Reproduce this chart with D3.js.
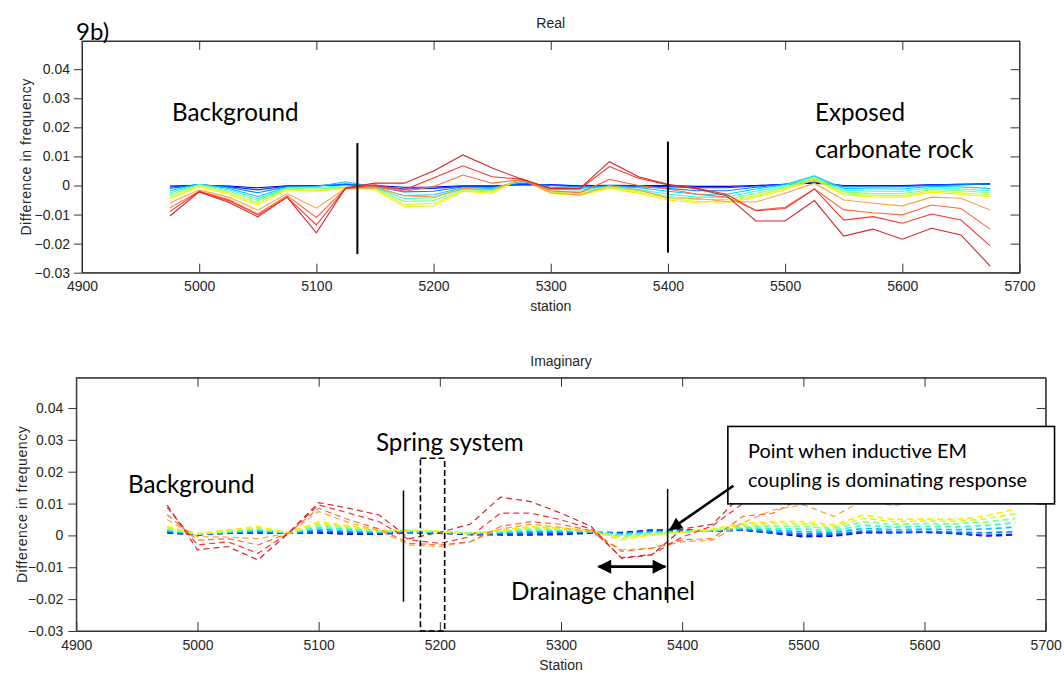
<!DOCTYPE html>
<html>
<head>
<meta charset="utf-8">
<script src="https://cdn.jsdelivr.net/npm/d3@7"></script>
<style>
body { margin: 0; background: #fff; }
svg text { font-family: "Liberation Sans", Arial, sans-serif; fill: #262626; }
svg text.note { font-family: Lato, "Open Sans", sans-serif; fill: #000; }
</style>
</head>
<body>
<div id="chart-area"></div>
<script>
// Data //

const stations = [4975, 5000, 5025, 5050, 5075, 5100, 5125, 5150, 5175, 5200, 5225, 5250, 5275, 5300, 5325,
                  5350, 5375, 5400, 5425, 5450, 5475, 5500, 5525, 5550, 5575, 5600, 5625, 5650, 5675];

const xTicks = [4900, 5000, 5100, 5200, 5300, 5400, 5500, 5600, 5700];
const yTicks = [-0.03, -0.02, -0.01, 0, 0.01, 0.02, 0.03, 0.04];

// Real part, one array per frequency (blue -> red)
const real0 = [-0.0002, 0.0001, -0.0002, -0.0008, -0.0001, 0.0000, 0.0002, 0.0000, -0.0006, -0.0005, -0.0001, -0.0001, 0.0002, 0.0002, -0.0001, 0.0001, 0.0000, 0.0000, -0.0003, -0.0003, 0.0000, 0.0004, 0.0008, 0.0000, 0.0000, 0.0000, 0.0002, 0.0004, 0.0004];
const real1 = [-0.0005, 0.0002, -0.0004, -0.0015, -0.0002, -0.0001, 0.0003, -0.0002, -0.0012, -0.0010, -0.0003, -0.0003, 0.0004, 0.0002, -0.0002, 0.0000, -0.0002, -0.0004, -0.0008, -0.0008, -0.0002, 0.0004, 0.0012, -0.0002, -0.0002, -0.0002, 0.0002, 0.0004, 0.0007];
const real2 = [-0.0010, 0.0003, -0.0006, -0.0025, -0.0004, -0.0002, 0.0006, -0.0003, -0.0022, -0.0020, -0.0005, -0.0006, 0.0008, 0.0000, -0.0005, -0.0002, -0.0004, -0.0010, -0.0018, -0.0018, -0.0006, 0.0004, 0.0020, -0.0004, -0.0005, -0.0004, 0.0000, 0.0002, 0.0005];
const real3 = [-0.0018, 0.0004, -0.0010, -0.0038, -0.0006, -0.0004, 0.0013, -0.0005, -0.0035, -0.0032, -0.0008, -0.0010, 0.0015, -0.0006, -0.0010, -0.0003, -0.0008, -0.0020, -0.0030, -0.0030, -0.0012, 0.0003, 0.0033, -0.0010, -0.0012, -0.0012, -0.0003, -0.0005, -0.0010];
const real4 = [-0.0025, 0.0003, -0.0015, -0.0045, -0.0008, -0.0008, 0.0000, -0.0008, -0.0045, -0.0042, -0.0012, -0.0014, 0.0020, -0.0012, -0.0016, -0.0005, -0.0014, -0.0030, -0.0040, -0.0040, -0.0020, 0.0000, 0.0030, -0.0016, -0.0020, -0.0020, -0.0008, -0.0012, -0.0018];
const real5 = [-0.0032, 0.0002, -0.0020, -0.0052, -0.0010, -0.0012, -0.0006, -0.0010, -0.0055, -0.0052, -0.0015, -0.0018, 0.0022, -0.0018, -0.0022, -0.0006, -0.0018, -0.0038, -0.0048, -0.0048, -0.0028, -0.0005, 0.0028, -0.0022, -0.0028, -0.0028, -0.0014, -0.0018, -0.0025];
const real6 = [-0.0040, 0.0000, -0.0025, -0.0060, -0.0012, -0.0018, -0.0008, -0.0012, -0.0065, -0.0062, -0.0018, -0.0022, 0.0025, -0.0022, -0.0028, -0.0008, -0.0022, -0.0045, -0.0055, -0.0055, -0.0035, -0.0010, 0.0025, -0.0028, -0.0035, -0.0035, -0.0018, -0.0025, -0.0032];
const real7 = [-0.0045, -0.0005, -0.0030, -0.0067, -0.0015, -0.0020, -0.0010, -0.0015, -0.0073, -0.0070, -0.0020, -0.0027, 0.0025, -0.0027, -0.0033, -0.0010, -0.0027, -0.0050, -0.0060, -0.0060, -0.0040, -0.0015, 0.0020, -0.0033, -0.0039, -0.0040, -0.0023, -0.0030, -0.0039];
const real8 = [-0.0060, -0.0015, -0.0040, -0.0085, -0.0028, -0.0078, -0.0010, -0.0008, -0.0035, -0.0040, -0.0010, -0.0015, 0.0022, -0.0025, -0.0033, 0.0000, -0.0015, -0.0042, -0.0045, -0.0055, -0.0057, -0.0027, 0.0008, -0.0050, -0.0061, -0.0070, -0.0040, -0.0044, -0.0084];
const real9 = [-0.0077, -0.0020, -0.0048, -0.0098, -0.0035, -0.0110, -0.0010, -0.0004, -0.0020, -0.0004, 0.0036, 0.0008, 0.0020, -0.0018, -0.0025, 0.0021, 0.0000, -0.0012, -0.0030, -0.0040, -0.0085, -0.0075, -0.0012, -0.0084, -0.0094, -0.0101, -0.0067, -0.0079, -0.0150];
const real10 = [-0.0090, -0.0020, -0.0052, -0.0102, -0.0040, -0.0136, -0.0010, 0.0002, -0.0015, 0.0026, 0.0068, 0.0030, 0.0022, -0.0012, -0.0012, 0.0065, 0.0025, 0.0002, -0.0010, -0.0030, -0.0087, -0.0079, -0.0012, -0.0119, -0.0107, -0.0130, -0.0098, -0.0119, -0.0208];
const real11 = [-0.0105, -0.0022, -0.0058, -0.0108, -0.0040, -0.0163, -0.0008, 0.0008, 0.0008, 0.0050, 0.0105, 0.0060, 0.0022, -0.0010, -0.0010, 0.0082, 0.0030, 0.0004, -0.0012, -0.0035, -0.0122, -0.0122, -0.0052, -0.0174, -0.0150, -0.0185, -0.0147, -0.0170, -0.0277];

// Imaginary part
const imag0 = [0.0008, 0.0002, 0.0007, 0.0008, 0.0008, 0.0008, 0.0004, 0.0004, 0.0009, 0.0007, 0.0003, 0.0002, 0.0002, 0.0003, 0.0008, 0.0009, 0.0017, 0.0017, 0.0013, 0.0017, 0.0007, -0.0004, -0.0002, 0.0009, 0.0009, 0.0011, 0.0007, -0.0002, 0.0002];
const imag1 = [0.0010, 0.0002, 0.0008, 0.0010, 0.0008, 0.0010, 0.0007, 0.0006, 0.0010, 0.0008, 0.0004, 0.0004, 0.0004, 0.0006, 0.0009, 0.0008, 0.0015, 0.0016, 0.0013, 0.0018, 0.0008, 0.0000, 0.0001, 0.0010, 0.0009, 0.0010, 0.0006, 0.0000, 0.0004];
const imag2 = [0.0012, 0.0003, 0.0009, 0.0012, 0.0008, 0.0014, 0.0011, 0.0008, 0.0011, 0.0009, 0.0005, 0.0006, 0.0009, 0.0010, 0.0010, 0.0006, 0.0013, 0.0014, 0.0013, 0.0019, 0.0011, 0.0005, 0.0005, 0.0014, 0.0012, 0.0013, 0.0010, 0.0008, 0.0012];
const imag3 = [0.0015, 0.0004, 0.0010, 0.0015, 0.0008, 0.0020, 0.0015, 0.0010, 0.0012, 0.0010, 0.0006, 0.0009, 0.0013, 0.0013, 0.0011, 0.0004, 0.0010, 0.0013, 0.0014, 0.0021, 0.0016, 0.0012, 0.0010, 0.0022, 0.0018, 0.0020, 0.0018, 0.0020, 0.0026];
const imag4 = [0.0018, 0.0005, 0.0011, 0.0018, 0.0008, 0.0025, 0.0019, 0.0012, 0.0014, 0.0011, 0.0007, 0.0011, 0.0017, 0.0016, 0.0012, 0.0001, 0.0008, 0.0012, 0.0015, 0.0024, 0.0022, 0.0020, 0.0016, 0.0032, 0.0026, 0.0028, 0.0027, 0.0031, 0.0040];
const imag5 = [0.0022, 0.0005, 0.0013, 0.0022, 0.0008, 0.0032, 0.0023, 0.0014, 0.0015, 0.0012, 0.0007, 0.0013, 0.0021, 0.0019, 0.0013, -0.0003, 0.0006, 0.0011, 0.0016, 0.0028, 0.0030, 0.0028, 0.0022, 0.0043, 0.0035, 0.0037, 0.0036, 0.0042, 0.0053];
const imag6 = [0.0025, 0.0005, 0.0015, 0.0025, 0.0008, 0.0038, 0.0027, 0.0016, 0.0016, 0.0012, 0.0006, 0.0015, 0.0025, 0.0021, 0.0014, -0.0008, 0.0004, 0.0010, 0.0018, 0.0033, 0.0038, 0.0036, 0.0028, 0.0054, 0.0043, 0.0045, 0.0044, 0.0052, 0.0068];
const imag7 = [0.0028, 0.0005, 0.0017, 0.0028, 0.0008, 0.0043, 0.0030, 0.0017, 0.0017, 0.0012, 0.0004, 0.0017, 0.0028, 0.0023, 0.0015, -0.0014, 0.0002, 0.0010, 0.0020, 0.0038, 0.0043, 0.0043, 0.0033, 0.0064, 0.0050, 0.0052, 0.0050, 0.0060, 0.0082];
const imag8 = [0.0050, -0.0004, -0.0005, -0.0010, 0.0007, 0.0075, 0.0040, 0.0015, -0.0030, -0.0035, -0.0020, 0.0020, 0.0035, 0.0025, 0.0010, -0.0045, -0.0040, -0.0020, -0.0015, 0.0040, 0.0080, 0.0096, 0.0060, 0.0110, 0.0093, 0.0115, 0.0120, 0.0125, 0.0130];
const imag9 = [0.0065, -0.0015, -0.0010, -0.0030, 0.0007, 0.0085, 0.0049, 0.0020, -0.0025, -0.0030, -0.0020, 0.0028, 0.0043, 0.0035, 0.0015, -0.0050, -0.0040, -0.0014, -0.0010, 0.0060, 0.0070, 0.0120, 0.0130, 0.0140, 0.0135, 0.0150, 0.0150, 0.0160, 0.0170];
const imag10 = [0.0088, -0.0030, -0.0020, -0.0056, 0.0007, 0.0096, 0.0070, 0.0043, -0.0014, -0.0025, -0.0004, 0.0070, 0.0070, 0.0049, 0.0020, -0.0070, -0.0060, -0.0005, 0.0030, 0.0100, 0.0150, 0.0170, 0.0170, 0.0180, 0.0180, 0.0190, 0.0190, 0.0200, 0.0210];
const imag11 = [0.0095, -0.0045, -0.0035, -0.0077, 0.0007, 0.0103, 0.0085, 0.0064, -0.0010, 0.0010, 0.0035, 0.0120, 0.0106, 0.0070, 0.0028, -0.0072, -0.0061, 0.0020, 0.0035, 0.0130, 0.0180, 0.0200, 0.0200, 0.0210, 0.0210, 0.0220, 0.0220, 0.0230, 0.0240];

const realSeries = [real0, real1, real2, real3, real4, real5, real6, real7, real8, real9, real10, real11];
const imagSeries = [imag0, imag1, imag2, imag3, imag4, imag5, imag6, imag7, imag8, imag9, imag10, imag11];

// jet-like colours, one per frequency
const lineColors = ["#0000d0", "#0030ff", "#0080ff", "#00c8ff", "#30ffd0", "#80ff80",
                    "#c8ff30", "#ffee00", "#ffa040", "#ff6a3a", "#ff3030", "#d02828"];

// Configure canvas //

var svg = d3.select("#chart-area")
    .append("svg")
    .attr("width", 1064)
    .attr("height", 674);

var defs = svg.append("defs");
defs.append("marker")
    .attr("id", "head")
    .attr("viewBox", "0 0 10 10")
    .attr("refX", 9).attr("refY", 5)
    .attr("markerWidth", 5.5).attr("markerHeight", 5)
    .attr("orient", "auto-start-reverse")
    .append("path")
    .attr("d", "M0,0 L10,5 L0,10 z")
    .attr("fill", "#000");

function drawPanel(p) {
    var g = svg.append("g")
        .attr("transform", "translate(" + p.left + ", " + p.top + ")");

    var x = d3.scaleLinear().domain([4900, 5700]).range([0, p.width]);
    var y = d3.scaleLinear().domain([-0.03, p.yTop]).range([p.height, 0]);

    // lines, blue first so the reds sit on top
    var line = d3.line()
        .x((d, i) => x(stations[i]))
        .y(d => y(d));

    g.selectAll("path.series")
        .data(p.series)
        .enter()
        .append("path")
        .attr("class", "series")
        .attr("d", line)
        .attr("fill", "none")
        .attr("stroke", (d, i) => lineColors[i])
        .attr("stroke-width", (d, i) => p.dashed ? (i < 8 ? 1.7 : 1.2) : 1.1)
        .attr("stroke-dasharray", p.dashed ? "6,4" : null);

    // axes, MATLAB-ish box
    var xAxisCall = d3.axisBottom(x).tickValues(xTicks).tickSizeInner(-9).tickSizeOuter(0)
        .tickPadding(p.xPad).tickFormat(d3.format("d"));
    var xTopCall = d3.axisTop(x).tickValues(xTicks.slice(1, -1)).tickSizeInner(-9).tickSizeOuter(0)
        .tickFormat("");
    var yAxisCall = d3.axisLeft(y).tickValues(yTicks).tickSizeInner(8).tickSizeOuter(0)
        .tickPadding(p.yPad).tickFormat(d => d === 0 ? "0" : d3.format(".2f")(d));
    var yRightCall = d3.axisRight(y).tickValues(yTicks).tickSizeInner(-9).tickSizeOuter(0)
        .tickFormat("");

    var axes = [
        g.append("g").attr("transform", "translate(0," + p.height + ")").call(xAxisCall),
        g.append("g").call(xTopCall),
        g.append("g").call(yAxisCall),
        g.append("g").attr("transform", "translate(" + p.width + ",0)").call(yRightCall)
    ];
    axes.forEach(a => {
        a.select(".domain").attr("stroke", "#333");
        a.selectAll(".tick line").attr("stroke", "#333");
        a.selectAll(".tick text").attr("font-size", "14px").attr("fill", "#262626")
            .attr("font-family", "'Liberation Sans', Arial, sans-serif");
    });
    g.append("rect")
        .attr("width", p.width).attr("height", p.height)
        .attr("fill", "none").attr("stroke", "#333").attr("stroke-width", 1);

    // labels
    g.append("text")
        .attr("x", p.width / 2).attr("y", p.titleY)
        .attr("font-size", "14px").attr("text-anchor", "middle")
        .text(p.title);
    g.append("text")
        .attr("x", p.width / 2).attr("y", p.height + p.xLabelY)
        .attr("font-size", "14px").attr("text-anchor", "middle")
        .text(p.xLabel);
    g.append("text")
        .attr("transform", "translate(" + p.yLabelX + "," + (p.height / 2) + ") rotate(-90)")
        .attr("font-size", "14px").attr("letter-spacing", "0.6px").attr("text-anchor", "middle")
        .text("Difference in frequency");

    return {g: g, x: x, y: y};
}

// Real //
var top1 = drawPanel({
    left: 82, top: 41, width: 937.5, height: 231.7, yTop: 0.0497,
    series: realSeries, dashed: false,
    title: "Real", titleY: -13, xLabel: "station", xLabelY: 38,
    xPad: 8, yPad: 4, yLabelX: -51
});

// vertical markers
[[5135, 0.0146, -0.0236], [5400, 0.0151, -0.0231]].forEach(v => {
    top1.g.append("line")
        .attr("x1", top1.x(v[0])).attr("x2", top1.x(v[0]))
        .attr("y1", top1.y(v[1])).attr("y2", top1.y(v[2]))
        .attr("stroke", "#000").attr("stroke-width", 2);
});

// Imaginary //
var bot = drawPanel({
    left: 76.3, top: 377.7, width: 969.4, height: 253.3, yTop: 0.0495,
    series: imagSeries, dashed: true,
    title: "Imaginary", titleY: -12, xLabel: "Station", xLabelY: 39,
    xPad: 9, yPad: 5, yLabelX: -49
});

[[5170, 0.0141, -0.0208], [5388, 0.0146, -0.0212]].forEach(v => {
    bot.g.append("line")
        .attr("x1", bot.x(v[0])).attr("x2", bot.x(v[0]))
        .attr("y1", bot.y(v[1])).attr("y2", bot.y(v[2]))
        .attr("stroke", "#000").attr("stroke-width", 1.5);
});

// spring system box
bot.g.append("rect")
    .attr("x", bot.x(5184)).attr("y", bot.y(0.0242))
    .attr("width", bot.x(5204) - bot.x(5184))
    .attr("height", bot.y(-0.03) - bot.y(0.0242))
    .attr("fill", "none").attr("stroke", "#000")
    .attr("stroke-width", 1.6).attr("stroke-dasharray", "6,3");

// drainage channel arrow
bot.g.append("line")
    .attr("x1", bot.x(5331)).attr("x2", bot.x(5386))
    .attr("y1", bot.y(-0.0098)).attr("y2", bot.y(-0.0098))
    .attr("stroke", "#000").attr("stroke-width", 2.8)
    .attr("marker-start", "url(#head)").attr("marker-end", "url(#head)");

// callout
bot.g.append("rect")
    .attr("x", bot.x(5437.7)).attr("y", bot.y(0.0342))
    .attr("width", bot.x(5707.3) - bot.x(5437.7))
    .attr("height", bot.y(0.0099) - bot.y(0.0342))
    .attr("fill", "#fff").attr("stroke", "#000").attr("stroke-width", 1.6);
bot.g.append("line")
    .attr("x1", bot.x(5442.3)).attr("y1", bot.y(0.0156))
    .attr("x2", bot.x(5390)).attr("y2", bot.y(0.0018))
    .attr("stroke", "#000").attr("stroke-width", 2.6)
    .attr("marker-end", "url(#head)");

// Annotations //
var notes = [
    ["9b)", 76, 40, 24],
    ["Background", 172, 121, 24.2],
    ["Exposed", 815, 121, 24.2],
    ["carbonate rock", 815, 158, 24.2],
    ["Spring system", 376, 451, 24.2],
    ["Background", 128, 493, 24.2],
    ["Drainage channel", 511, 600, 24.2],
    ["Point when inductive EM", 748, 458, 19.9],
    ["coupling is dominating response", 748, 487, 19.9]
];
notes.forEach(n => {
    svg.append("text")
        .attr("class", "note")
        .attr("x", n[1]).attr("y", n[2])
        .attr("font-size", n[3] + "px")
        .text(n[0]);
});
</script>
</body>
</html>
